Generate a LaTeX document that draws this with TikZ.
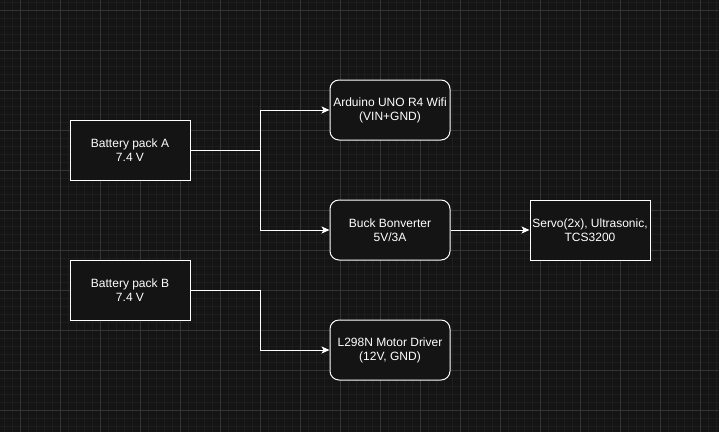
\documentclass[tikz,border=0pt]{standalone}
\usepackage{fontspec}
\setmainfont{Liberation Sans}
\usepackage{tikz}
\usetikzlibrary{positioning,arrows.meta}

\definecolor{bg}{HTML}{141414}
\definecolor{gridmin}{HTML}{1D1D1D}
\definecolor{gridmaj}{HTML}{343434}

\tikzset{
  blk/.style={draw=white, fill=bg, text=white, line width=1pt, minimum width=120pt, minimum height=60pt, inner sep=0pt, align=center, font=\fontsize{12}{14}\selectfont},
  rblk/.style={blk, rounded corners=9pt},
  wire/.style={draw=white, line width=1pt, -{Stealth[length=8pt,width=7pt,inset=2pt]}}
}

\begin{document}
\begin{tikzpicture}[x=1pt,y=-1pt]
\useasboundingbox (0,0) rectangle (719,432);
\fill[bg] (0,0) rectangle (719,432);
\foreach \x in {4,12,...,716} \draw[gridmin, line width=0.8pt] (\x,0) -- (\x,432);
\foreach \y in {2,10,...,426} \draw[gridmin, line width=0.8pt] (0,\y) -- (719,\y);
\foreach \x in {20,60,...,700} \draw[gridmaj, line width=0.8pt] (\x,0) -- (\x,432);
\foreach \y in {10,50,...,410} \draw[gridmaj, line width=0.8pt] (0,\y) -- (719,\y);
\node[blk] (batA) at (130,150) {Battery pack A\\7.4 V};
\node[blk] (batB) at (130,290) {Battery pack B\\7.4 V};
\node[rblk] (ard) at (390,110) {Arduino UNO R4 Wifi\\(VIN+GND)};
\node[rblk] (buck) at (390,230) {Buck Bonverter\\5V/3A};
\node[rblk] (l298) at (390,350) {L298N Motor Driver\\(12V, GND)};
\node[blk] (servo) at (590,230) {Servo(2x), Ultrasonic,\\TCS3200};
\coordinate (splitA) at (260,150);
\coordinate (splitB) at (260,290);
\draw[wire] (batA.east) -- (splitA) |- (ard.west);
\draw[wire] (splitA) |- (buck.west);
\draw[wire] (batB.east) -- (splitB) |- (l298.west);
\draw[wire] (buck.east) -- (servo.west);
\end{tikzpicture}
\end{document}
